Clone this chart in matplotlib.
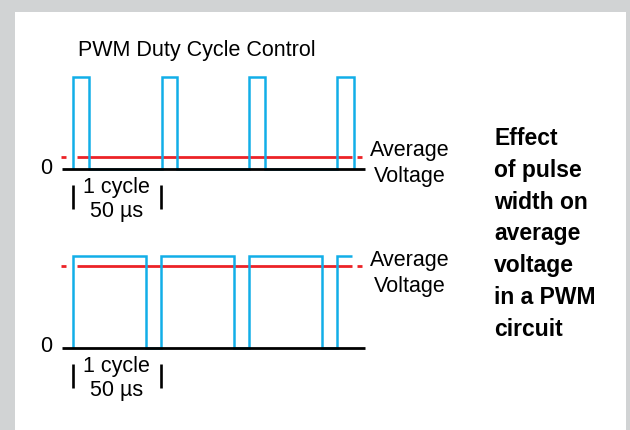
"""
PWM duty cycle illustration: two pulse trains with their average voltage.
"""
import matplotlib
matplotlib.use("Agg")
import matplotlib.pyplot as plt
from matplotlib.patches import Rectangle

plt.rcParams["font.family"] = ["Liberation Sans", "DejaVu Sans"]

W, H = 630, 430

# ---------------------------------------------------------------------------
# Data (time in microseconds, level relative to the pulse height)
# ---------------------------------------------------------------------------
period_us = 50
t_end = 172               # length of the 0 V base line
avg_solid = (8.5, 164.5)  # solid part of the average line
avg_stubs = [(-0.5, 2.3), (167.4, 170.3)]  # short dashes at both ends

low_rise = [6, 56.5, 106, 156]
low_fall = [15.5, 65.5, 115.5, 165.5]
low_avg = 0.13

high_rise = [6, 56, 106, 156]
high_fall = [47.5, 97.5, 147.5]
high_stop = 164.5    # last pulse is cut off while still high
high_avg = 0.89

title = "PWM Duty Cycle Control"
side_lines = ["Effect", "of pulse", "width on", "average", "voltage", "in a PWM", "circuit"]

BLUE = "#12aee8"
RED = "#ec2227"
GRAY = "#d1d3d4"


def fx(px):
    return px / W


def fy(py):
    return 1 - py / H


def square_wave(rises, falls, stop=None):
    t, v = [], []
    for i, r in enumerate(rises):
        t += [r, r]
        v += [0, 1]
        if i < len(falls):
            t += [falls[i], falls[i]]
            v += [1, 0]
        elif stop is not None:
            t.append(stop)
            v.append(1)
    return t, v


fig = plt.figure(figsize=(W / 100, H / 100), dpi=100)
fig.patch.set_facecolor(GRAY)
panel = Rectangle((fx(15), 0), fx(626) - fx(15), fy(12), transform=fig.transFigure,
                  facecolor="white", edgecolor="none")
panel.set_zorder(-5)
fig.patches.append(panel)


def draw_panel(base_py, rises, falls, avg, stop=None):
    ax = fig.add_axes([fx(62), fy(base_py), fx(365) - fx(62), 92 / H])
    ax.set_zorder(1)
    ax.set_xlim(0, t_end)
    ax.set_ylim(0, 1)
    ax.axis("off")
    # average voltage: solid with a short dash at each end
    ax.plot(avg_solid, [avg, avg], color=RED, lw=2.0, solid_capstyle="butt", clip_on=False, zorder=1)
    for a, b in avg_stubs:
        ax.plot([a, b], [avg, avg], color=RED, lw=2.0, solid_capstyle="butt", clip_on=False, zorder=1)
    t, v = square_wave(rises, falls, stop)
    ax.plot(t, v, color=BLUE, lw=1.8, solid_joinstyle="miter", solid_capstyle="butt",
            clip_on=False, zorder=2)
    ax.plot([0, t_end], [0, 0], color="black", lw=2.0, solid_capstyle="butt", clip_on=False, zorder=4)
    # one-cycle bracket
    c0 = rises[0]
    for xb in (c0, c0 + period_us):
        ax.plot([xb, xb], [-0.17, -0.44], color="black", lw=1.9, solid_capstyle="butt", clip_on=False)
    ax.text(c0 + period_us / 2, -0.26, "1 cycle", ha="center", va="baseline", fontsize=15.5)
    ax.text(c0 + period_us / 2, -0.52, "50 µs", ha="center", va="baseline", fontsize=15.5)
    return ax


draw_panel(169, low_rise, low_fall, low_avg)
draw_panel(348, high_rise, high_fall, high_avg, stop=high_stop)

fig.text(fx(46), fy(168), "0", ha="center", va="center", fontsize=15.5)
fig.text(fx(46), fy(347), "0", ha="center", va="center", fontsize=15.5)

for base in (156, 266):
    fig.text(fx(410), fy(base), "Average", ha="center", va="baseline", fontsize=15.5)
    fig.text(fx(410), fy(base + 26), "Voltage", ha="center", va="baseline", fontsize=15.5)

fig.text(fx(197), fy(56), title, ha="center", va="baseline", fontsize=15.5)

for i, line in enumerate(side_lines):
    fig.text(fx(494), fy(145 + i * 31.8), line, ha="left", va="baseline",
             fontsize=16.5, fontweight="bold")

fig.savefig("out.png", dpi=100, facecolor=fig.get_facecolor())
